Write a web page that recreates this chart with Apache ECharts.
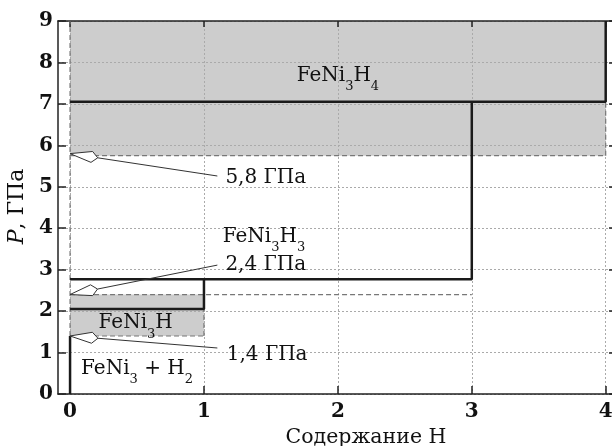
<!DOCTYPE html>
<html><head><meta charset="utf-8">
<script src="https://cdn.jsdelivr.net/npm/echarts@6/dist/echarts.min.js"></script>
<style>html,body{margin:0;padding:0;background:#fff}#c{width:612px;height:446px}</style>
</head><body><div id="c"></div>
<script>
// ---- data ----
const xTicks = [0, 1, 2, 3, 4];
const yTicks = [0, 1, 2, 3, 4, 5, 6, 7, 8, 9];
// solid phase boundaries (null = break)
const solidX = [0, 0, null, 0, 1, 1, null, 0, 3, 3, null, 0, 4, 4];
const solidY = [0, 1.4, null, 2.05, 2.05, 2.77, null, 2.77, 2.77, 7.05, null, 7.05, 7.05, 9];
// dashed boundaries
const dashedX = [0, 0, null, 0, 4, null, 4, 4, null, 0, 3, null, 0, 1, null, 1, 1];
const dashedY = [1.4, 9, null, 5.75, 5.75, null, 5.75, 7.05, null, 2.4, 2.4, null, 1.4, 1.4, null, 1.4, 2.05];
// shaded regions
const shadeX0 = [0, 0];
const shadeX1 = [4, 1];
const shadeY0 = [5.75, 1.4];
const shadeY1 = [9, 2.4];
// phase labels (centered)
const phaseText = ['{n|FeNi}{s|3}{n|H}{s|4}', '{n|FeNi}{s|3}{n|H}', '{n|FeNi}{s|3}{n| + H}{s|2}'];
const phaseX = [2.0, 0.49, 0.5];
const phaseY = [7.67, 1.71, 0.62];
// annotation labels (left aligned)
const noteText = ['{n|FeNi}{s|3}{n|H}{s|3}', '{n|2,4 ГПа}', '{n|5,8 ГПа}', '{n|1,4 ГПа}'];
const noteX = [1.14, 1.16, 1.16, 1.17];
const noteY = [3.79, 3.11, 5.21, 0.95];
// arrows
const arrowTipX = [0, 0, 0];
const arrowTipY = [5.8, 2.4, 1.4];
const arrowEndX = [1.1, 1.1, 1.1];
const arrowEndY = [5.26, 3.11, 1.11];

// ---- build ----
const FONT = 'DejaVu Serif';
function pairs(xs, ys) { return xs.map((x, i) => (x === null ? null : [x, ys[i]])); }
const rich = {
  n: { fontSize: 20, fontFamily: FONT, fill: '#111', verticalAlign: 'middle' },
  s: { fontSize: 13, fontFamily: FONT, fill: '#111', verticalAlign: 'middle', padding: [22, 0, 0, 0] }
};
function textSeries(texts, xs, ys, align) {
  return {
    type: 'custom', z: 5,
    data: texts.map((t, i) => [xs[i], ys[i], i]),
    renderItem: function (params, api) {
      const p = api.coord([api.value(0), api.value(1)]);
      return {
        type: 'text', x: p[0], y: p[1],
        style: { text: texts[api.value(2)], rich: rich, align: align, verticalAlign: 'middle', fontSize: 20, fontFamily: FONT, fill: '#111' }
      };
    }
  };
}
const lineStyleGrid = { color: '#aaa', type: [2, 2], width: 1 };
const frame = { onZero: false, lineStyle: { color: '#222', width: 1.5 } };
const option = {
  animation: false,
  backgroundColor: '#fff',
  grid: { left: 58, right: -2, top: 21, bottom: 52, containLabel: false, outerBoundsMode: 'none' },
  xAxis: [{
    type: 'value', min: -0.09, max: 4.062, position: 'bottom', z: 1,
    name: 'Содержание Н', nameLocation: 'middle', nameGap: 32,
    nameTextStyle: { fontFamily: FONT, fontSize: 20.5, color: '#111', padding: [0, 0, 0, 60] },
    axisLine: frame,
    axisTick: { inside: true, length: 8, customValues: xTicks, lineStyle: { color: '#222', width: 1.5 } },
    axisLabel: { customValues: xTicks, margin: 8, fontFamily: FONT, fontSize: 20, fontWeight: 'bold', color: '#111' },
    splitLine: { show: true, lineStyle: lineStyleGrid }
  }, {
    type: 'value', min: -0.09, max: 4.062, position: 'top', z: 1,
    axisLine: frame,
    axisTick: { inside: true, length: 6, customValues: xTicks, lineStyle: { color: '#222', width: 1.5 } },
    axisLabel: { show: false }, splitLine: { show: false }
  }],
  yAxis: [{
    type: 'value', min: 0, max: 9, interval: 1, position: 'left', z: 1,
    name: '{i|P}{n|, ГПа}', nameLocation: 'middle', nameGap: 23,
    nameTextStyle: { fontFamily: FONT, fontSize: 22, color: '#111', padding: [0, 0, 0, 2],
      rich: { i: { fontFamily: FONT, fontSize: 22, fontStyle: 'italic', color: '#111' }, n: { fontFamily: FONT, fontSize: 22, color: '#111' } } },
    axisLine: Object.assign({ show: true }, frame),
    axisTick: { show: true, inside: true, length: 8, lineStyle: { color: '#222', width: 1.5 } },
    axisLabel: { margin: 5, fontFamily: FONT, fontSize: 20, fontWeight: 'bold', color: '#111',
      formatter: v => (yTicks.indexOf(v) >= 0 ? String(v) : '') },
    splitLine: { show: true, lineStyle: lineStyleGrid }
  }, {
    type: 'value', min: 0, max: 9, interval: 1, position: 'right', z: 1,
    axisLine: Object.assign({ show: true }, frame),
    axisTick: { show: true, inside: true, length: 5, lineStyle: { color: '#222', width: 1.5 } },
    axisLabel: { show: false }, splitLine: { show: false }
  }],
  series: [
    {
      type: 'custom', z: 0,
      data: shadeX0.map((x, i) => [x, shadeY0[i], shadeX1[i], shadeY1[i]]),
      renderItem: function (params, api) {
        const a = api.coord([api.value(0), api.value(1)]);
        const b = api.coord([api.value(2), api.value(3)]);
        return { type: 'rect', shape: { x: a[0], y: b[1], width: b[0] - a[0], height: a[1] - b[1] },
          style: { fill: '#cdcdcd' } };
      }
    },
    {
      type: 'line', z: 3, data: pairs(dashedX, dashedY), symbol: 'none', connectNulls: false,
      lineStyle: { color: '#777', width: 1.2, type: [5, 3] }
    },
    {
      type: 'line', z: 4, data: pairs(solidX, solidY), symbol: 'none', connectNulls: false,
      lineStyle: { color: '#1a1a1a', width: 2.5 }
    },
    {
      type: 'custom', z: 5,
      data: arrowTipX.map((x, i) => [x, arrowTipY[i], arrowEndX[i], arrowEndY[i]]),
      renderItem: function (params, api) {
        const p0 = api.coord([api.value(0), api.value(1)]);
        const p1 = api.coord([api.value(2), api.value(3)]);
        let dx = p1[0] - p0[0], dy = p1[1] - p0[1];
        const len = Math.sqrt(dx * dx + dy * dy); dx /= len; dy /= len;
        const nx = -dy, ny = dx;
        const L = 28, W = 22, hw = 5.5;
        const back = [p0[0] + dx * L, p0[1] + dy * L];
        const w1 = [p0[0] + dx * W + nx * hw, p0[1] + dy * W + ny * hw];
        const w2 = [p0[0] + dx * W - nx * hw, p0[1] + dy * W - ny * hw];
        return {
          type: 'group', children: [
            { type: 'line', shape: { x1: back[0], y1: back[1], x2: p1[0], y2: p1[1] }, style: { stroke: '#333', lineWidth: 1 } },
            { type: 'polygon', shape: { points: [p0, w1, back, w2] }, style: { fill: '#fff', stroke: '#333', lineWidth: 1 } }
          ]
        };
      }
    },
    textSeries(phaseText, phaseX, phaseY, 'center'),
    textSeries(noteText, noteX, noteY, 'left')
  ]
};
const chart = echarts.init(document.getElementById('c'), null, { renderer: 'canvas' });
chart.setOption(option);
</script></body></html>
